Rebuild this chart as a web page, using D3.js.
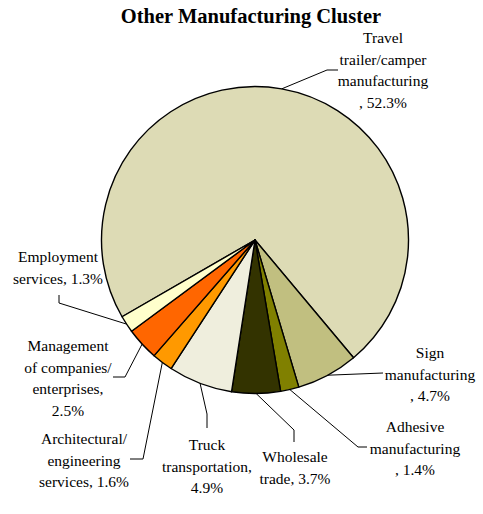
<!DOCTYPE html>
<html>
<head>
<meta charset="utf-8">
<script src="https://cdn.jsdelivr.net/npm/d3@7"></script>
<style>
  html, body { margin: 0; padding: 0; background: #fff; }
  svg { display: block; }
</style>
</head>
<body>
<svg id="chart" width="483" height="514"></svg>
<script>
// Share of cluster employment by industry (percent)
const categories = [
  "Travel trailer/camper manufacturing",
  "Sign manufacturing",
  "Adhesive manufacturing",
  "Wholesale trade",
  "Truck transportation",
  "Architectural/ engineering services",
  "Management of companies/ enterprises",
  "Employment services"
];
const values = [52.3, 4.7, 1.4, 3.7, 4.9, 1.6, 2.5, 1.3];
const colors = ["#dddbb5", "#c1bf80", "#808000", "#333300", "#efeedd", "#ff9900", "#ff6600", "#ffffcc"];

// Label text, split into lines as wrapped in the chart
const labelLines = [
  ["Travel", "trailer/camper", "manufacturing", ", 52.3%"],
  ["Sign", "manufacturing", ", 4.7%"],
  ["Adhesive", "manufacturing", ", 1.4%"],
  ["Wholesale", "trade, 3.7%"],
  ["Truck", "transportation,", "4.9%"],
  ["Architectural/", "engineering", "services, 1.6%"],
  ["Management", "of companies/", "enterprises,", "2.5%"],
  ["Employment", "services, 1.3%"]
];

// Label layout: text centre x, first baseline y, and leader-line bend points
const labelLayout = [
  { x: 383, y: 43,  leader: [[327, 70], [338, 70]] },
  { x: 430, y: 358, leader: [[383, 373]] },
  { x: 415, y: 432, leader: [[358, 447], [367, 447]] },
  { x: 295, y: 462, leader: [[294, 430], [294, 442]] },
  { x: 207, y: 450, leader: [[207, 414], [207, 428]] },
  { x: 84,  y: 444, leader: [[143, 459], [130, 459]] },
  { x: 68,  y: 351, leader: [[125, 377], [113, 377]] },
  { x: 58,  y: 262, leader: [[59, 303], [59, 295]] }
];

const serif = "'Liberation Serif', 'Times New Roman', 'DejaVu Serif', serif";
const cx = 255, cy = 240, radius = 153.5;
const lineHeight = 21.5;

const svg = d3.select("#chart");

svg.append("text")
  .attr("x", 251)
  .attr("y", 23)
  .attr("text-anchor", "middle")
  .attr("font-family", serif)
  .attr("font-weight", "bold")
  .attr("font-size", "20.5px")
  .attr("fill", "#000")
  .text("Other Manufacturing Cluster");

const startAngle = -120 * Math.PI / 180;
const pie = d3.pie().sort(null).value(d => d)
  .startAngle(startAngle)
  .endAngle(startAngle + 2 * Math.PI);
const arcs = pie(values);
const arc = d3.arc().innerRadius(0).outerRadius(radius);

const g = svg.append("g").attr("transform", `translate(${cx},${cy})`);

g.selectAll("path.slice")
  .data(arcs)
  .join("path")
  .attr("class", "slice")
  .attr("d", arc)
  .attr("fill", (d, i) => colors[i])
  .attr("stroke", "#000")
  .attr("stroke-width", 1.4)
  .attr("stroke-linejoin", "round");

// Leader lines from the middle of each slice's rim to its label
const line = d3.line();
arcs.forEach((d, i) => {
  const mid = (d.startAngle + d.endAngle) / 2;
  const start = [cx + radius * Math.sin(mid), cy - radius * Math.cos(mid)];
  const pts = [start].concat(labelLayout[i].leader);
  svg.append("path")
    .attr("d", line(pts))
    .attr("fill", "none")
    .attr("stroke", "#000")
    .attr("stroke-width", 1);
});

// Labels
labelLines.forEach((lines, i) => {
  const t = svg.append("text")
    .attr("text-anchor", "middle")
    .attr("font-family", serif)
    .attr("font-size", "15.5px")
    .attr("fill", "#000");
  lines.forEach((s, j) => {
    t.append("tspan")
      .attr("x", labelLayout[i].x)
      .attr("y", labelLayout[i].y + j * lineHeight)
      .text(s);
  });
});
</script>
</body>
</html>
